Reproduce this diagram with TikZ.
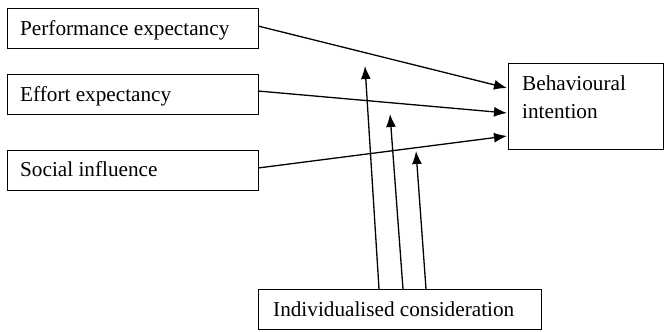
\documentclass[tikz,border=0pt]{standalone}
\usepackage{fontspec}
\setmainfont{Liberation Serif}
\usetikzlibrary{arrows.meta}
\begin{document}
\begin{tikzpicture}[x=1bp,y=-1bp,
  box/.style={draw, line width=0.8bp, inner sep=0pt},
  lbl/.style={inner sep=0pt, anchor=base west, font=\fontsize{21.3}{25}\selectfont},
  arr/.style={line width=1.3bp, -{Latex[length=13bp,width=10bp]}}]
\useasboundingbox (0,0) rectangle (664,331);
% boxes
\node[box, minimum width=251bp, minimum height=40bp] (pe) at (132.5,28) {};
\node[box, minimum width=251bp, minimum height=40bp] (ee) at (132.5,94.5) {};
\node[box, minimum width=251bp, minimum height=40bp] (si) at (132.5,170) {};
\node[box, minimum width=155bp, minimum height=86bp] (bi) at (585.5,106) {};
\node[box, minimum width=283bp, minimum height=40bp] (ic) at (399.5,309) {};
% labels
\node[lbl] (pel) at (20,35) {Performance expectancy};
\node[lbl] (eel) at (20,101) {Effort expectancy};
\node[lbl] (sil) at (20,176) {Social influence};
\node[lbl] (bil1) at (522,90) {Behavioural};
\node[lbl] (bil2) at (522,118) {intention};
\node[lbl] (icl) at (273,316) {Individualised consideration};
% coordinates
\coordinate (peo) at (258,26);
\coordinate (eeo) at (258,91);
\coordinate (sio) at (258,168);
\coordinate (bi1) at (507,88);
\coordinate (bi2) at (507,113);
\coordinate (bi3) at (507,136);
\coordinate (ic1) at (379,289);
\coordinate (ic2) at (403,289);
\coordinate (ic3) at (426,289);
\coordinate (t1) at (365,66);
\coordinate (t2) at (390,114);
\coordinate (t3) at (416,151);
% arrows
\draw[arr] (peo) -- (bi1);
\draw[arr] (eeo) -- (bi2);
\draw[arr] (sio) -- (bi3);
\draw[arr] (ic1) -- (t1);
\draw[arr] (ic2) -- (t2);
\draw[arr] (ic3) -- (t3);
\end{tikzpicture}
\end{document}
